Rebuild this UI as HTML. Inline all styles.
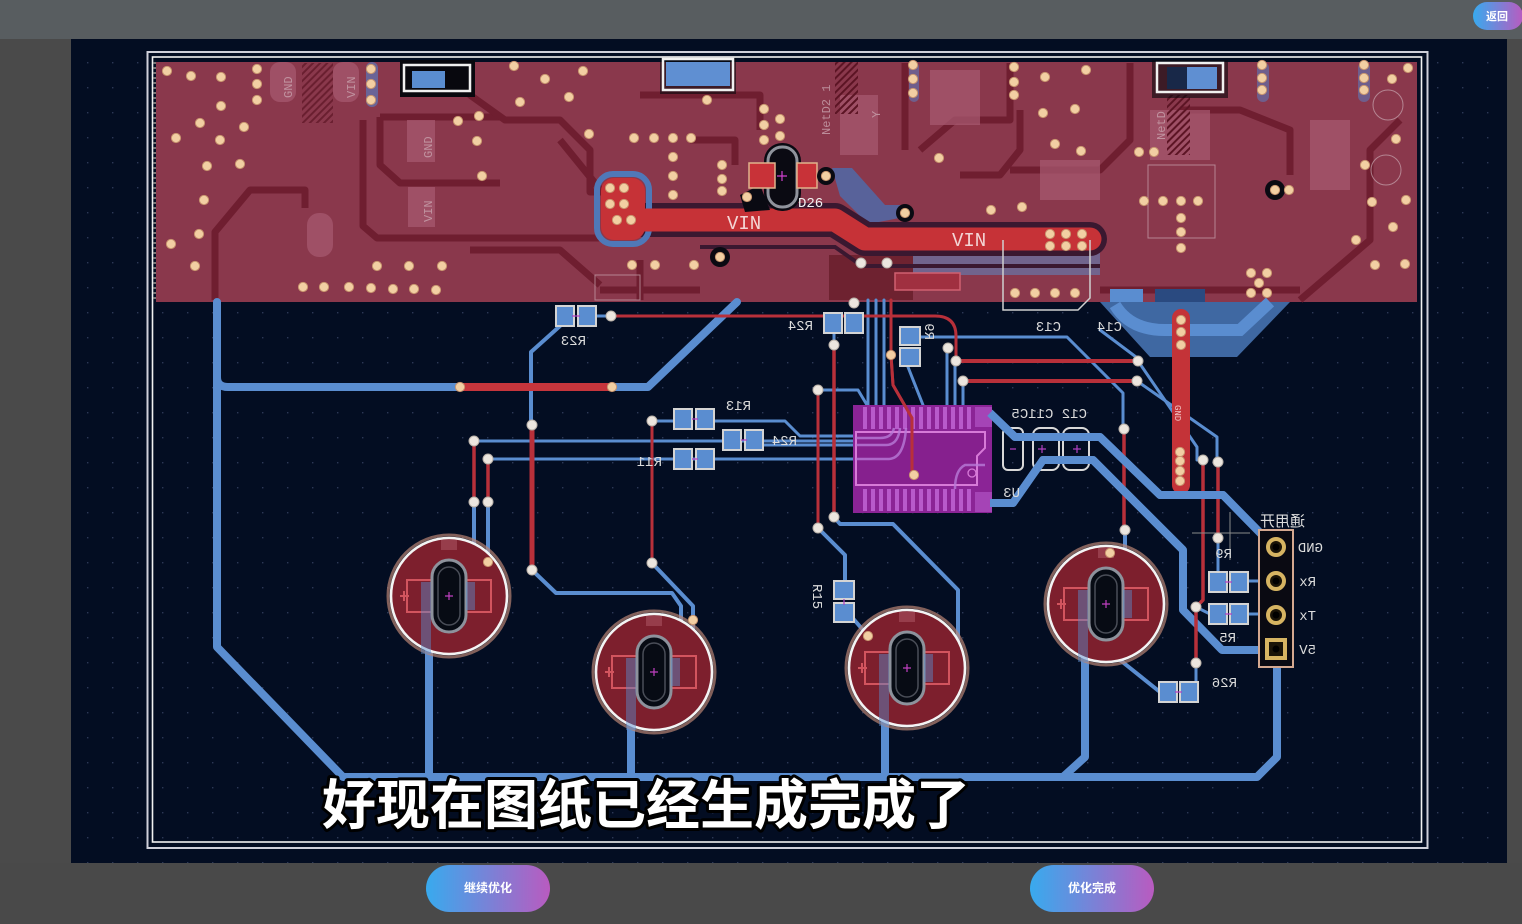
<!DOCTYPE html>
<html><head><meta charset="utf-8"><style>
html,body{margin:0;padding:0;background:#4a4a4a;}
svg{display:block;}
.s{font-family:"Liberation Mono",monospace;fill:#dcdcdc;font-size:14px;}
</style></head><body>
<svg width="1522" height="924" viewBox="0 0 1522 924" xmlns="http://www.w3.org/2000/svg">
<defs>
<pattern id="dots" width="25" height="25" patternUnits="userSpaceOnUse"><rect x="12" y="12" width="1.4" height="1.4" fill="#2b3856"/></pattern>
<pattern id="hatch" width="5" height="5" patternUnits="userSpaceOnUse" patternTransform="rotate(45)"><rect width="2" height="5" fill="#5c1424"/></pattern>
<linearGradient id="btn" x1="0" x2="1" y1="0" y2="0"><stop offset="0" stop-color="#38aaee"/><stop offset="1" stop-color="#b95bc0"/></linearGradient>
<circle id="v" r="4.6" fill="#f2cfa3" stroke="#c99670" stroke-width="1"/>
<circle id="w" r="5" fill="#ece6df" stroke="#b9b0a8" stroke-width="1"/>
<g id="cap">
 <circle r="61" fill="none" stroke="#b98474" stroke-width="3" opacity=".7"/>
 <circle r="58" fill="#7d1f2d" stroke="#f4f4f4" stroke-width="2.6"/>
 <path d="M-17 -16 H-42 V16 H-17 M17 -16 H42 V16 H17" fill="none" stroke="#d2545e" stroke-width="2"/>
 <path d="M-49 0 H-40 M-45 -5 V5" stroke="#d2545e" stroke-width="2"/>
 <rect x="-17" y="-36" width="34" height="72" rx="17" fill="#070b14" stroke="#8d929c" stroke-width="3"/>
 <rect x="-11" y="-29" width="22" height="58" rx="11" fill="none" stroke="#4a4e58" stroke-width="1.5"/>
 <path d="M-4 0 H4 M0 -4 V4" stroke="#c040c0" stroke-width="1.2"/>
 <rect x="-28" y="-14" width="10" height="72" fill="#5a8dd0" opacity=".45"/>
 <rect x="17" y="-14" width="9" height="28" fill="#5a8dd0" opacity=".45"/>
 <rect x="-8" y="-56" width="16" height="10" fill="#a34a58" opacity=".7"/>
</g>
</defs>

<!-- frame -->
<rect width="1522" height="924" fill="#4a4a4a"/>
<rect width="1522" height="39" fill="#585d60"/>
<rect x="71" y="39" width="1436" height="824" fill="#030d22"/>
<rect x="71" y="39" width="1436" height="824" fill="url(#dots)"/>

<!-- board outline -->
<rect x="147.5" y="52" width="1280" height="796" fill="none" stroke="#cfd0da" stroke-width="2"/>
<rect x="152.5" y="57" width="1269" height="785" fill="none" stroke="#f2f2f2" stroke-width="1.6"/>
<path d="M155 62 V300" stroke="#777" stroke-width="3" stroke-dasharray="2 3"/>

<!-- copper pour -->
<rect x="156" y="62" width="1261" height="240" fill="#8a384c"/>
<!-- pour textures -->
<g fill="none" stroke="#6f1e30" stroke-width="7" stroke-linejoin="round">
 <path d="M215 300 V232 L250 190 H305 V208"/>
 <path d="M380 117 H500 M380 117 V165 L400 183 H500"/>
 <path d="M363 120 V226 L377 238 H600"/>
 <path d="M470 63 V95 L505 120 H560 L590 150 V192 H603"/>
 <path d="M560 140 L603 193"/>
 <path d="M640 95 H760 V130"/>
 <path d="M690 140 H735 V165"/>
 <path d="M905 63 V150"/>
 <path d="M920 150 L955 120 H1010 V63"/>
 <path d="M1010 170 H1100 L1130 140 V63"/>
 <path d="M1180 110 H1240 L1290 130 V175"/>
 <path d="M1300 300 L1370 240 V150 L1400 120"/>
 <path d="M1100 290 H1300"/>
 <path d="M600 290 H700 M640 260 V300"/>
 <path d="M470 250 H560 L600 285"/>
 <path d="M960 175 H1000 L1020 150 V110"/>
</g>
<g fill="#a6586f" opacity=".75">
 <rect x="270" y="62" width="26" height="40" rx="10"/>
 <rect x="333" y="62" width="26" height="40" rx="10"/>
 <rect x="407" y="120" width="28" height="42"/>
 <rect x="408" y="187" width="27" height="40"/>
 <rect x="307" y="213" width="26" height="44" rx="12"/>
 <rect x="840" y="95" width="38" height="60"/>
 <rect x="1040" y="160" width="60" height="40"/>
 <rect x="1150" y="110" width="60" height="50"/>
 <rect x="930" y="70" width="50" height="55"/>
 <rect x="1310" y="120" width="40" height="70"/>
</g>
<rect x="835" y="62" width="23" height="52" fill="url(#hatch)"/>
<rect x="1167" y="95" width="23" height="60" fill="url(#hatch)"/>
<rect x="302" y="63" width="31" height="60" fill="url(#hatch)" opacity=".7"/>
<g stroke="#c7a7b0" stroke-width="1" fill="none" opacity=".7">
 <rect x="1148" y="165" width="67" height="73"/>
 <circle cx="1388" cy="105" r="15"/>
 <circle cx="1386" cy="170" r="15"/>
 <rect x="595" y="275" width="45" height="25"/>
</g>
<!-- blue under pour -->
<rect x="913" y="252" width="187" height="23" fill="#6a6f9e" opacity=".8"/>
<rect x="829" y="255" width="84" height="45" fill="#6e2230"/>
<polygon points="832,168 852,168 885,205 905,205 905,217 868,224 840,196" fill="#4f6aa8" opacity=".85"/>
<path d="M700 247 H835 L862 266 H1100" fill="none" stroke="#3a1830" stroke-width="4"/>
<rect x="895" y="273" width="65" height="17" fill="#a03040" stroke="#d06070" stroke-width="1.5"/>
<rect x="366" y="62" width="12" height="45" rx="6" fill="#5d78b8" opacity=".7"/>
<rect x="909" y="62" width="10" height="40" rx="5" fill="#5d78b8" opacity=".6"/>
<rect x="1358" y="62" width="12" height="40" rx="6" fill="#5d78b8" opacity=".6"/>
<rect x="1257" y="62" width="12" height="40" rx="6" fill="#5d78b8" opacity=".6"/>
<rect x="1110" y="289" width="33" height="14" fill="#5a8dd0"/>
<rect x="1155" y="289" width="50" height="14" fill="#2a4a80"/>
<!-- faint texts in pour -->
<g font-family="Liberation Mono,monospace" font-size="12" fill="#c9a3ae" opacity=".8">
 <text transform="translate(292,98) rotate(-90)">GND</text>
 <text transform="translate(355,98) rotate(-90)">VIN</text>
 <text transform="translate(432,158) rotate(-90)">GND</text>
 <text transform="translate(432,222) rotate(-90)">VIN</text>
 <text transform="translate(830,135) rotate(-90)">NetD2 1</text>
 <text transform="translate(1165,140) rotate(-90)">NetD</text>
 <text transform="translate(880,118) rotate(-90)">Y</text>
</g>

<!-- VIN trace -->
<path d="M622 220 H835 L865 239 H1090" fill="none" stroke="#3a1830" stroke-width="34" stroke-linejoin="round" stroke-linecap="round"/>
<rect x="597" y="174" width="52" height="70" rx="16" fill="none" stroke="#4f78b8" stroke-width="6"/>
<rect x="601" y="178" width="44" height="62" rx="13" fill="#c63237"/>
<path d="M622 220 H835 L865 239 H1090" fill="none" stroke="#c63237" stroke-width="23" stroke-linejoin="round" stroke-linecap="round"/>
<text x="727" y="229" font-family="Liberation Mono,monospace" font-size="19" fill="#f3d5d5">VIN</text>
<text x="952" y="246" font-family="Liberation Mono,monospace" font-size="19" fill="#f3d5d5">VIN</text>

<!-- D26 -->
<path d="M740 195 L760 185 L770 210 L745 212 Z" fill="#0a0a12"/>
<rect x="764" y="143" width="37" height="68" rx="18" fill="#0a0a12"/>
<rect x="768" y="147" width="29" height="60" rx="14" fill="#0a0a12" stroke="#8f939c" stroke-width="3"/>
<rect x="749" y="163" width="26" height="25" fill="#c83238" stroke="#e0b38c" stroke-width="1.5"/>
<rect x="797" y="163" width="20" height="25" fill="#c83238" stroke="#e0b38c" stroke-width="1.5"/>
<path d="M777 176 H787 M782 171 V181" stroke="#d040d0" stroke-width="1.2"/>
<circle cx="826" cy="176" r="9" fill="#0a0a12"/>
<text x="798" y="207" font-family="Liberation Mono,monospace" font-size="14" fill="#f2f2f2">D26</text>
<circle cx="720" cy="257" r="10" fill="#0a0a12"/>
<circle cx="905" cy="213" r="9" fill="#0a0a12"/>
<circle cx="1275" cy="190" r="10" fill="#0a0a12"/>

<!-- top edge components -->
<rect x="400" y="60" width="75" height="37" fill="#08080e"/>
<rect x="412" y="71" width="33" height="17" fill="#5a8dd0"/>
<rect x="404" y="65" width="66" height="26" fill="none" stroke="#f0f0f0" stroke-width="2.5"/>
<rect x="660" y="58" width="76" height="36" fill="#08080e" opacity=".6"/>
<rect x="666" y="62" width="64" height="24" fill="#5f8fd2"/>
<rect x="663" y="59" width="70" height="31" fill="none" stroke="#f0f0f0" stroke-width="2.5"/>
<rect x="1152" y="60" width="76" height="38" fill="#08080e" opacity=".6"/>
<rect x="1167" y="67" width="50" height="22" fill="#5f8fd2"/>
<rect x="1167" y="67" width="20" height="22" fill="#182848"/>
<rect x="1157" y="63" width="66" height="29" fill="none" stroke="#f0f0f0" stroke-width="2.5"/>

<!-- blue trapezoid right -->
<polygon points="1100,302 1290,302 1237,357 1150,357" fill="#3f68a2"/>
<path d="M1115 305 Q1130 330 1165 330 H1240 L1270 302" fill="none" stroke="#5a8dd0" stroke-width="12"/>

<!-- BLUE TRACES -->
<g fill="none" stroke="#5a8dd0" stroke-linejoin="round" stroke-linecap="round">
 <g stroke-width="8">
  <path d="M217 302 V647 L343 777 H1257 L1277 757 V652"/>
  <path d="M217 377 Q217 387 228 387 H460"/>
  <path d="M612 387 H648 L737 302"/>
  <path d="M429 630 V777"/>
  <path d="M631 700 V777"/>
  <path d="M885 700 V777"/>
  <path d="M1085 640 V757 L1063 777"/>
  <path d="M990 413 L1015 437 H1100 L1160 495 H1223 L1270 543"/>
  <path d="M990 503 H1013 L1043 460 H1093 L1183 550 V610 L1222 650 H1272"/>
 </g>
 <g stroke-width="4">
  <path d="M560 326 L531 352 V425"/>
  <path d="M532 570 L556 593 H672 L681 606 V645"/>
  <path d="M652 563 L693 606 V640"/>
  <path d="M474 502 V580"/>
  <path d="M488 502 V562"/>
  <path d="M818 528 L845 555 V585"/>
  <path d="M850 615 L870 638"/>
  <path d="M834 517 L840 524 H893 L958 590 V648"/>
  <path d="M1120 660 L1160 692"/>
  <path d="M1125 530 V565"/>
 </g>
 <g stroke-width="3">
  <path d="M474 441 H855"/>
  <path d="M488 459 H855"/>
  <path d="M652 421 H680"/>
  <path d="M705 421 H785 L800 436 H855"/>
  <path d="M755 445 H855"/>
  <path d="M818 390 H858 L867 405"/>
  <path d="M834 328 V345"/>
  <path d="M868 300 V407 M876 300 V407 M884 300 V407"/>
  <path d="M947 345 V407 M955 362 V407 M963 381 V407"/>
  <path d="M908 367 L923 405"/>
  <path d="M920 337 H1067 L1123 393 V429"/>
  <path d="M1138 361 L1197 447 V460"/>
  <path d="M1137 381 L1217 437 V462"/>
  <path d="M1196 663 V683"/>
  <path d="M1218 538 V572"/>
  <path d="M1196 607 L1210 614"/>
  <path d="M1240 581 H1268"/>
  <path d="M1240 614 H1268"/>
  <path d="M1100 330 L1140 360"/>
  <path d="M595 316 H611"/>
 </g>
</g>

<!-- RED TRACES -->
<g fill="none" stroke="#b8303a" stroke-linecap="round" stroke-linejoin="round">
 <path d="M460 387 H612" stroke="#c6353c" stroke-width="8"/>
 <path d="M532 425 V570" stroke-width="5"/>
 <path d="M612 316 H935 Q956 316 956 336 V362" stroke-width="3"/>
 <path d="M956 361 H1138" stroke-width="4"/>
 <path d="M963 381 H1137" stroke-width="4"/>
 <path d="M652 421 V563" stroke-width="3"/>
 <path d="M474 441 V502 M488 459 V502" stroke-width="3.5"/>
 <path d="M818 390 V528" stroke-width="3"/>
 <path d="M834 345 V518" stroke-width="3.5"/>
 <path d="M891 300 V355 L893 385 L912 418 V475" stroke-width="3"/>
 <path d="M1124 429 V530" stroke-width="3.5"/>
 <path d="M1203 460 V600 L1196 607 V663" stroke-width="3.5"/>
 <path d="M1218 462 V538" stroke-width="3.5"/>
 <path d="M1181 318 V485" stroke="#c43338" stroke-width="18"/>
</g>
<text transform="translate(1175,405) rotate(90)" font-family="Liberation Mono,monospace" font-size="9" fill="#f0c0c0">GND</text>

<!-- chip U3 -->
<rect x="853" y="405" width="139" height="108" fill="#8b2496"/>
<g fill="#b85acb">
 <rect x="863" y="407" width="4" height="22"/><rect x="871" y="407" width="4" height="22"/><rect x="879" y="407" width="4" height="22"/><rect x="887" y="407" width="4" height="22"/><rect x="895" y="407" width="4" height="22"/><rect x="903" y="407" width="4" height="22"/><rect x="911" y="407" width="4" height="22"/><rect x="919" y="407" width="4" height="22"/><rect x="927" y="407" width="4" height="22"/><rect x="935" y="407" width="4" height="22"/><rect x="943" y="407" width="4" height="22"/><rect x="951" y="407" width="4" height="22"/><rect x="959" y="407" width="4" height="22"/><rect x="967" y="407" width="4" height="22"/>
 <rect x="863" y="489" width="4" height="22"/><rect x="871" y="489" width="4" height="22"/><rect x="879" y="489" width="4" height="22"/><rect x="887" y="489" width="4" height="22"/><rect x="895" y="489" width="4" height="22"/><rect x="903" y="489" width="4" height="22"/><rect x="911" y="489" width="4" height="22"/><rect x="919" y="489" width="4" height="22"/><rect x="927" y="489" width="4" height="22"/><rect x="935" y="489" width="4" height="22"/><rect x="943" y="489" width="4" height="22"/><rect x="951" y="489" width="4" height="22"/><rect x="959" y="489" width="4" height="22"/><rect x="967" y="489" width="4" height="22"/>
 <rect x="975" y="407" width="17" height="20" opacity=".6"/>
 <rect x="975" y="492" width="17" height="20" opacity=".6"/>
</g>
<path d="M856 432 H985 V448 L977 456 V485 H856 Z" fill="#86208e" stroke="#d77ad8" stroke-width="2"/>
<circle cx="972" cy="473" r="4" fill="none" stroke="#d77ad8" stroke-width="1.3"/>
<path d="M856 438 H880 Q892 438 894 428 M856 445 H886 Q898 445 900 428 M856 459 H888 Q904 459 906 428 M985 465 H965 Q955 470 955 489" fill="none" stroke="#b87ad8" stroke-width="2.5" opacity=".8"/>
<path d="M891 300 V355 L893 385 L912 418 V475" fill="none" stroke="#b8303a" stroke-width="3"/>

<!-- capacitor pads C12 C11 C5 -->
<g fill="none" stroke="#d8d8d8" stroke-width="2">
 <rect x="1003" y="428" width="20" height="42" rx="5"/>
 <rect x="1033" y="428" width="26" height="42" rx="7"/>
 <rect x="1063" y="428" width="26" height="42" rx="7"/>
</g>
<path d="M990 413 L1015 437 H1100 L1160 495 H1223 L1270 543" fill="none" stroke="#5a8dd0" stroke-width="8" stroke-linejoin="round"/>
<path d="M990 503 H1013 L1043 460 H1093 L1183 550" fill="none" stroke="#5a8dd0" stroke-width="8" stroke-linejoin="round"/>
<path d="M1010 449 H1016 M1038 449 H1046 M1042 445 V453 M1073 449 H1081 M1077 445 V453" stroke="#b040c0" stroke-width="1.2"/>

<!-- C13 outline etc -->
<path d="M1003 240 V310 H1078 L1090 298 V240" fill="none" stroke="#d0d0d0" stroke-width="1.5"/>

<!-- resistors (white outline pads) -->
<g fill="#5a8dd0" stroke="#d4d4d4" stroke-width="2">
 <rect x="556" y="306" width="18" height="20"/><rect x="578" y="306" width="18" height="20"/>
 <rect x="824" y="313" width="18" height="20"/><rect x="845" y="313" width="18" height="20"/>
 <rect x="900" y="327" width="20" height="18"/><rect x="900" y="348" width="20" height="18"/>
 <rect x="674" y="409" width="18" height="20"/><rect x="696" y="409" width="18" height="20"/>
 <rect x="723" y="430" width="18" height="20"/><rect x="745" y="430" width="18" height="20"/>
 <rect x="674" y="449" width="18" height="20"/><rect x="696" y="449" width="18" height="20"/>
 <rect x="834" y="581" width="20" height="18"/><rect x="834" y="603" width="20" height="19"/>
 <rect x="1209" y="572" width="18" height="20"/><rect x="1230" y="572" width="18" height="20"/>
 <rect x="1209" y="604" width="18" height="20"/><rect x="1230" y="604" width="18" height="20"/>
 <rect x="1159" y="682" width="18" height="20"/><rect x="1180" y="682" width="18" height="20"/>
</g>
<g stroke="#b040c0" stroke-width="1.2">
 <path d="M572 316 H580 M692 419 H698 M741 440 H747 M692 459 H698 M1225 582 H1232 M1225 614 H1232 M1175 692 H1182 M844 599 V605"/>
</g>

<!-- capacitors -->
<use href="#cap" x="449" y="596"/>
<use href="#cap" x="654" y="672"/>
<use href="#cap" x="907" y="668"/>
<use href="#cap" x="1106" y="604"/>

<!-- connector -->
<rect x="1259" y="530" width="34" height="137" fill="#0a0a12" stroke="#d4a890" stroke-width="2"/>
<g fill="#1a1408" stroke="#d6b462" stroke-width="4">
 <circle cx="1276" cy="547" r="8"/>
 <circle cx="1276" cy="581" r="8"/>
 <circle cx="1276" cy="615" r="8"/>
 <rect x="1267" y="640" width="18" height="18"/>
</g>
<g fill="#000"><circle cx="1276" cy="547" r="3.5"/><circle cx="1276" cy="581" r="3.5"/><circle cx="1276" cy="615" r="3.5"/><circle cx="1276" cy="649" r="3.5"/></g>
<path d="M1192 533 H1250 M1230 512 V560" stroke="#8a8a8a" stroke-width="1"/>

<!-- vias in pour -->
<g>
<use href="#v" x="167" y="71"/><use href="#v" x="191" y="76"/><use href="#v" x="221" y="77"/><use href="#v" x="257" y="69"/><use href="#v" x="257" y="84"/><use href="#v" x="257" y="100"/><use href="#v" x="221" y="106"/><use href="#v" x="200" y="123"/><use href="#v" x="244" y="127"/><use href="#v" x="176" y="138"/><use href="#v" x="220" y="140"/><use href="#v" x="207" y="166"/><use href="#v" x="240" y="164"/><use href="#v" x="204" y="200"/><use href="#v" x="199" y="234"/><use href="#v" x="171" y="244"/><use href="#v" x="195" y="266"/>
<use href="#v" x="303" y="287"/><use href="#v" x="324" y="287"/><use href="#v" x="349" y="287"/><use href="#v" x="371" y="288"/><use href="#v" x="393" y="289"/><use href="#v" x="414" y="289"/><use href="#v" x="436" y="290"/><use href="#v" x="377" y="266"/><use href="#v" x="409" y="266"/><use href="#v" x="442" y="266"/>
<use href="#v" x="371" y="69"/><use href="#v" x="371" y="84"/><use href="#v" x="371" y="100"/>
<use href="#v" x="458" y="121"/><use href="#v" x="479" y="116"/><use href="#v" x="477" y="141"/><use href="#v" x="482" y="176"/>
<use href="#v" x="514" y="66"/><use href="#v" x="545" y="79"/><use href="#v" x="583" y="71"/><use href="#v" x="520" y="102"/><use href="#v" x="569" y="97"/><use href="#v" x="589" y="134"/>
<use href="#v" x="634" y="138"/><use href="#v" x="654" y="138"/><use href="#v" x="673" y="138"/><use href="#v" x="691" y="138"/><use href="#v" x="673" y="157"/><use href="#v" x="673" y="176"/><use href="#v" x="673" y="195"/>
<use href="#v" x="707" y="100"/><use href="#v" x="764" y="109"/><use href="#v" x="764" y="125"/><use href="#v" x="780" y="119"/><use href="#v" x="764" y="140"/><use href="#v" x="780" y="136"/>
<use href="#v" x="722" y="165"/><use href="#v" x="722" y="179"/><use href="#v" x="722" y="191"/><use href="#v" x="747" y="197"/><use href="#v" x="826" y="176"/>
<use href="#v" x="610" y="188"/><use href="#v" x="624" y="188"/><use href="#v" x="610" y="204"/><use href="#v" x="624" y="204"/><use href="#v" x="617" y="220"/><use href="#v" x="631" y="220"/>
<use href="#v" x="1050" y="234"/><use href="#v" x="1066" y="234"/><use href="#v" x="1082" y="234"/><use href="#v" x="1050" y="246"/><use href="#v" x="1066" y="246"/><use href="#v" x="1082" y="246"/>
<use href="#v" x="939" y="158"/><use href="#v" x="991" y="210"/><use href="#v" x="1022" y="207"/><use href="#v" x="1045" y="77"/><use href="#v" x="1086" y="70"/><use href="#v" x="1043" y="113"/><use href="#v" x="1075" y="109"/><use href="#v" x="1055" y="144"/><use href="#v" x="1081" y="151"/>
<use href="#v" x="913" y="65"/><use href="#v" x="913" y="79"/><use href="#v" x="913" y="93"/><use href="#v" x="1014" y="67"/><use href="#v" x="1014" y="82"/><use href="#v" x="1014" y="95"/>
<use href="#v" x="632" y="265"/><use href="#v" x="655" y="265"/><use href="#v" x="694" y="265"/>
<use href="#v" x="1015" y="293"/><use href="#v" x="1035" y="293"/><use href="#v" x="1055" y="293"/><use href="#v" x="1075" y="293"/>
<use href="#v" x="1262" y="65"/><use href="#v" x="1262" y="78"/><use href="#v" x="1262" y="90"/><use href="#v" x="1364" y="65"/><use href="#v" x="1364" y="78"/><use href="#v" x="1364" y="90"/>
<use href="#v" x="1408" y="68"/><use href="#v" x="1392" y="79"/><use href="#v" x="1396" y="139"/><use href="#v" x="1365" y="165"/><use href="#v" x="1372" y="202"/><use href="#v" x="1406" y="200"/><use href="#v" x="1393" y="227"/><use href="#v" x="1356" y="240"/><use href="#v" x="1375" y="265"/><use href="#v" x="1405" y="264"/>
<use href="#v" x="1139" y="152"/><use href="#v" x="1154" y="152"/><use href="#v" x="1144" y="201"/><use href="#v" x="1163" y="201"/><use href="#v" x="1181" y="201"/><use href="#v" x="1198" y="201"/><use href="#v" x="1181" y="218"/><use href="#v" x="1181" y="232"/><use href="#v" x="1181" y="248"/>
<use href="#v" x="1251" y="273"/><use href="#v" x="1267" y="273"/><use href="#v" x="1259" y="283"/><use href="#v" x="1251" y="293"/><use href="#v" x="1267" y="293"/>
<use href="#v" x="1275" y="190"/><use href="#v" x="1289" y="190"/>
<use href="#v" x="720" y="257"/><use href="#v" x="905" y="213"/>
<use href="#v" x="1181" y="320"/><use href="#v" x="1181" y="332"/><use href="#v" x="1181" y="345"/>
<use href="#v" x="1180" y="452"/><use href="#v" x="1180" y="461"/><use href="#v" x="1180" y="471"/><use href="#v" x="1180" y="481"/>
<use href="#v" x="460" y="387"/><use href="#v" x="612" y="387"/><use href="#v" x="891" y="355"/><use href="#v" x="914" y="475"/><use href="#v" x="488" y="562"/><use href="#v" x="693" y="620"/><use href="#v" x="868" y="636"/><use href="#v" x="1110" y="553"/>
</g>
<!-- white transition vias -->
<g>
<use href="#w" x="611" y="316"/><use href="#w" x="532" y="425"/><use href="#w" x="532" y="570"/><use href="#w" x="474" y="441"/><use href="#w" x="488" y="459"/><use href="#w" x="474" y="502"/><use href="#w" x="488" y="502"/>
<use href="#w" x="652" y="421"/><use href="#w" x="652" y="563"/><use href="#w" x="818" y="390"/><use href="#w" x="818" y="528"/><use href="#w" x="834" y="345"/><use href="#w" x="834" y="517"/>
<use href="#w" x="956" y="361"/><use href="#w" x="963" y="381"/><use href="#w" x="948" y="348"/><use href="#w" x="1138" y="361"/><use href="#w" x="1137" y="381"/><use href="#w" x="1124" y="429"/><use href="#w" x="1125" y="530"/>
<use href="#w" x="1203" y="460"/><use href="#w" x="1218" y="462"/><use href="#w" x="1218" y="538"/><use href="#w" x="1196" y="607"/><use href="#w" x="1196" y="663"/>
<use href="#w" x="861" y="263"/><use href="#w" x="887" y="263"/><use href="#w" x="854" y="303"/>
</g>

<!-- silkscreen labels (mirrored) -->
<g class="s">
 <text transform="translate(586,345) scale(-1,1)">R23</text>
 <text transform="translate(813,330) scale(-1,1)">R24</text>
 <text transform="translate(1061,331) scale(-1,1)">C13</text>
 <text transform="translate(1122,331) scale(-1,1)">C14</text>
 <text transform="translate(751,410) scale(-1,1)">R13</text>
 <text transform="translate(797,445) scale(-1,1)">R24</text>
 <text transform="translate(662,466) scale(-1,1)">R11</text>
 <text transform="translate(1087,418) scale(-1,1)">C12 C11C5</text>
 <text transform="translate(1020,497) scale(-1,1)">U3</text>
 <text transform="translate(1236,642) scale(-1,1)">R5</text>
 <text transform="translate(1237,687) scale(-1,1)">R26</text>
 <text transform="translate(1232,558) scale(-1,1)">R9</text>
 <text transform="translate(1323,552) scale(-1,1)">GND</text>
 <text transform="translate(1316,586) scale(-1,1)">Rx</text>
 <text transform="translate(1316,620) scale(-1,1)">Tx</text>
 <text transform="translate(1316,654) scale(-1,1)">5V</text>
 <text transform="translate(925,340) rotate(90) scale(-1,1)">R9</text>
 <text transform="translate(813,584) rotate(90)">R15</text>
</g>
<text transform="translate(1305,526) scale(-1,1)" font-family="Liberation Sans,Noto Sans CJK SC,sans-serif" font-size="15" fill="#dcdcdc">通用开</text>

<!-- subtitle -->
<text x="322" y="824" font-family="Liberation Sans,Noto Sans CJK SC,sans-serif" font-weight="bold" font-size="54" fill="#ffffff" stroke="#000" stroke-width="6" stroke-linejoin="round" paint-order="stroke" textLength="648" lengthAdjust="spacingAndGlyphs">好现在图纸已经生成完成了</text>

<!-- bottom bar -->
<rect x="0" y="863" width="1522" height="61" fill="#494949"/>

<!-- buttons -->
<rect x="426" y="865" width="124" height="47" rx="23.5" fill="url(#btn)"/>
<text x="488" y="892" text-anchor="middle" font-family="Liberation Sans,Noto Sans CJK SC,sans-serif" font-weight="bold" font-size="12" fill="#fff">继续优化</text>
<rect x="1030" y="865" width="124" height="47" rx="23.5" fill="url(#btn)"/>
<text x="1092" y="892" text-anchor="middle" font-family="Liberation Sans,Noto Sans CJK SC,sans-serif" font-weight="bold" font-size="12" fill="#fff">优化完成</text>
<rect x="1473" y="2" width="50" height="28" rx="14" fill="url(#btn)"/>
<text x="1497" y="20" text-anchor="middle" font-family="Liberation Sans,Noto Sans CJK SC,sans-serif" font-weight="bold" font-size="11" fill="#fff">返回</text>
</svg>
</body></html>
